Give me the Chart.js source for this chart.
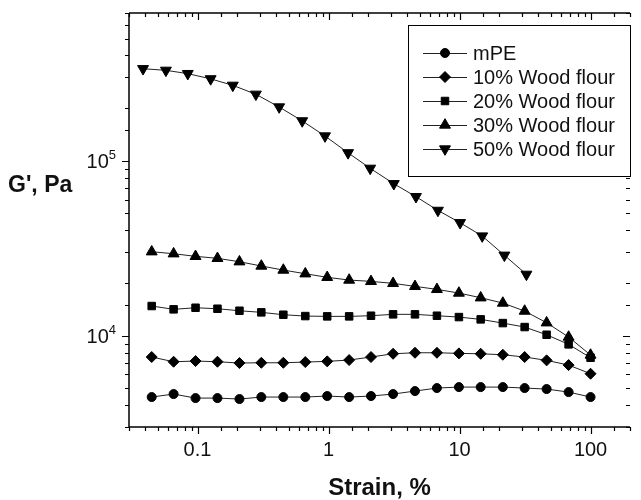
<!DOCTYPE html>
<html>
<head>
<meta charset="utf-8">
<script src="https://cdn.jsdelivr.net/npm/chart.js@4.4.1/dist/chart.umd.min.js"></script>
<style>
html, body { margin: 0; padding: 0; background: #fff; }
#wrap { width: 641px; height: 500px; }
</style>
</head>
<body>
<div id="wrap"><canvas id="chart"></canvas></div>
<script>
// strain, % (shared by mPE, 10, 20, 30 %)
const strain = [0.0447, 0.0657, 0.0966, 0.142, 0.209, 0.307, 0.452, 0.665, 0.977, 1.437,
                2.11, 3.11, 4.57, 6.72, 9.89, 14.5, 21.4, 31.4, 46.2, 68.0, 100];
// strain for 50 % wood flour
const strain50 = [0.0384, 0.0574, 0.0843, 0.126, 0.186, 0.279, 0.42, 0.63, 0.94, 1.41,
                  2.08, 3.15, 4.65, 6.84, 10.1, 14.9, 22.0, 32.4];

// G', Pa
const gMPE = [4450, 4630, 4390, 4390, 4335, 4450, 4450, 4450, 4510, 4450, 4510,
              4630, 4815, 5010, 5075, 5075, 5075, 5010, 4945, 4750, 4450];
const g10 = [7540, 7085, 7150, 7085, 6965, 6990, 6990, 7055, 7120, 7245, 7540,
             7870, 7975, 7975, 7910, 7870, 7770, 7540, 7215, 6780, 6050];
const g20 = [14760, 14130, 14430, 14240, 13870, 13580, 13160, 12930, 12880, 12880, 12990,
             13230, 13230, 12990, 12760, 12380, 11790, 11190, 10110, 8910, 7470];
const g30 = [30170, 29390, 28400, 27660, 26450, 25000, 23700, 22580, 21540, 20780, 20420,
             19890, 19120, 18380, 17510, 16460, 15350, 13810, 11840, 9810, 7740];
const g50 = [336000, 329000, 315000, 294000, 270000, 240000, 203000, 169000, 138500, 111000,
             90500, 73900, 62300, 52000, 44200, 37100, 28800, 22400];

const seriesNames = ['mPE', '10% Wood flour', '20% Wood flour', '30% Wood flour', '50% Wood flour'];
const xTickLabels = {0.1: '0.1', 1: '1', 10: '10', 100: '100'};
const yTickLabels = {10000: '4', 100000: '5'};

const FONT = '"Liberation Sans", Arial, sans-serif';

function pts(xs, ys) {
    return ys.map((v, i) => ({x: xs[i], y: v}));
}

function makeSet(label, data, style, radius, rotation) {
    return {
        label: label,
        data: data,
        borderColor: '#222',
        borderWidth: 1,
        pointStyle: style,
        pointRadius: radius,
        pointRotation: rotation || 0,
        pointBackgroundColor: '#000',
        pointBorderColor: '#000',
        pointBorderWidth: 1,
        tension: 0,
        fill: false
    };
}

function isDecade(v) {
    let l = Math.log10(v);
    return Math.abs(l - Math.round(l)) < 1e-6;
}

const framePlugin = {
    id: 'frame',
    afterDraw(chart) {
        const ctx = chart.ctx;
        const a = chart.chartArea;
        const xs = chart.scales.x, ys = chart.scales.y;
        ctx.save();
        ctx.strokeStyle = '#000';
        ctx.lineWidth = 1.5;
        ctx.beginPath();
        ctx.moveTo(a.left, a.top); ctx.lineTo(a.right, a.top);
        ctx.moveTo(a.left, a.bottom); ctx.lineTo(a.right, a.bottom);
        ctx.moveTo(a.left, a.top); ctx.lineTo(a.left, a.bottom);
        ctx.stroke();
        ctx.lineWidth = 1.2;
        ctx.beginPath();
        xs.ticks.forEach(t => {
            let px = Math.round(xs.getPixelForValue(t.value)) + 0.5;
            let len = isDecade(t.value) ? 7 : 4;
            ctx.moveTo(px, a.bottom); ctx.lineTo(px, a.bottom + len);
            ctx.moveTo(px, a.top); ctx.lineTo(px, a.top + len);
        });
        ys.ticks.forEach(t => {
            let py = Math.round(ys.getPixelForValue(t.value)) + 0.5;
            let len = isDecade(t.value) ? 7 : 4;
            ctx.moveTo(a.left - len, py); ctx.lineTo(a.left, py);
            ctx.moveTo(a.right - len, py); ctx.lineTo(a.right, py);
        });
        ctx.stroke();

        // y tick labels: 10 with superscript exponent
        ctx.fillStyle = '#111';
        ctx.textBaseline = 'alphabetic';
        ys.ticks.forEach(t => {
            let exp = yTickLabels[t.value];
            if (!exp) return;
            let py = ys.getPixelForValue(t.value);
            ctx.font = '13px ' + FONT;
            ctx.textAlign = 'right';
            ctx.fillText(exp, 116, py - 2);
            let ew = ctx.measureText(exp).width;
            ctx.font = '20px ' + FONT;
            ctx.fillText('10', 116 - ew, py + 7);
        });

        // axis titles
        ctx.font = 'bold 23px ' + FONT;
        ctx.textBaseline = 'middle';
        ctx.textAlign = 'left';
        ctx.fillText("G', Pa", 8, 186);
        ctx.textAlign = 'center';
        ctx.font = 'bold 24px ' + FONT;
        ctx.fillText('Strain, %', (a.left + a.right) / 2, 488);

        // legend
        const box = {left: 408, top: 25, right: 630, bottom: 176};
        ctx.fillStyle = '#fff';
        ctx.fillRect(box.left, box.top, box.right - box.left, box.bottom - box.top);
        ctx.lineWidth = 1;
        ctx.strokeStyle = '#000';
        ctx.strokeRect(box.left + 0.5, box.top + 0.5, box.right - box.left, box.bottom - box.top);
        ctx.font = '20px ' + FONT;
        ctx.textAlign = 'left';
        chart.data.datasets.forEach((ds, i) => {
            let yy = 53 + i * 24;
            ctx.strokeStyle = '#222';
            ctx.lineWidth = 1;
            ctx.beginPath();
            ctx.moveTo(423, yy + 0.5); ctx.lineTo(467, yy + 0.5);
            ctx.stroke();
            ctx.fillStyle = '#000';
            ctx.strokeStyle = '#000';
            Chart.helpers.drawPoint(ctx, {
                pointStyle: ds.pointStyle,
                radius: ds.pointRadius,
                rotation: ds.pointRotation,
                borderWidth: 1
            }, 445, yy);
            ctx.fillStyle = '#111';
            ctx.fillText(ds.label, 473, yy + 1);
        });
        ctx.restore();
    }
};

new Chart(document.getElementById('chart'), {
    type: 'line',
    data: {
        datasets: [
            makeSet(seriesNames[0], pts(strain, gMPE), 'circle', 4.5),
            makeSet(seriesNames[1], pts(strain, g10), 'rectRot', 5.5),
            makeSet(seriesNames[2], pts(strain, g20), 'rect', 5.3),
            makeSet(seriesNames[3], pts(strain, g30), 'triangle', 6.3),
            makeSet(seriesNames[4], pts(strain50, g50), 'triangle', 6.3, 180)
        ]
    },
    options: {
        responsive: true,
        maintainAspectRatio: false,
        animation: false,
        layout: {padding: {top: 13, right: 0, left: 0, bottom: 0}},
        plugins: {
            legend: {display: false},
            tooltip: {enabled: false}
        },
        scales: {
            x: {
                type: 'logarithmic',
                min: 0.03,
                max: 200,
                grid: {display: false, drawTicks: false},
                border: {display: false},
                ticks: {
                    autoSkip: false,
                    maxRotation: 0,
                    padding: 11,
                    color: '#111',
                    font: {family: FONT, size: 20},
                    callback: (v) => xTickLabels[v] || ''
                },
                afterFit: (scale) => { scale.height = 73; }
            },
            y: {
                type: 'logarithmic',
                min: 3000,
                max: 700000,
                grid: {display: false, drawTicks: false},
                border: {display: false},
                ticks: {
                    autoSkip: false,
                    display: false
                },
                afterFit: (scale) => { scale.width = 129; }
            }
        }
    },
    plugins: [framePlugin]
});
</script>
</body>
</html>
